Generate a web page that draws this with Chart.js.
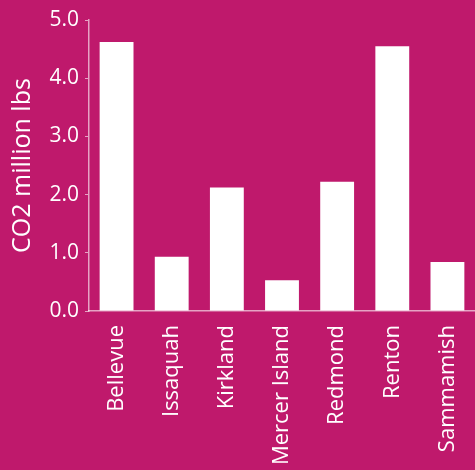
<!DOCTYPE html>
<html>
<head>
<meta charset="utf-8">
<script src="https://cdn.jsdelivr.net/npm/chart.js@4"></script>
<style>
  html, body { margin: 0; padding: 0; background: #BF196C; }
  #wrap { width: 475px; height: 470px; }
</style>
</head>
<body>
<div id="wrap"><canvas id="co2Chart" width="475" height="470"></canvas></div>
<script>
const cities = ["Bellevue", "Issaquah", "Kirkland", "Mercer Island", "Redmond", "Renton", "Sammamish"];
const co2Values = [4.62, 0.93, 2.12, 0.53, 2.22, 4.55, 0.84];
const yTicks = [0, 1, 2, 3, 4, 5];

const axisColor = "rgba(255, 255, 255, 0.6)";

new Chart(document.getElementById("co2Chart").getContext("2d"), {
  type: "bar",
  data: {
    labels: cities,
    datasets: [
      {
        label: "CO2 million lbs",
        data: co2Values,
        backgroundColor: "#ffffff",
        borderWidth: 0,
        categoryPercentage: 1,
        barPercentage: 0.614,
      },
    ],
  },
  options: {
    responsive: false,
    animation: false,
    layout: { padding: { top: 20, right: -2 } },
    plugins: {
      legend: { display: false },
      tooltip: { enabled: false },
    },
    scales: {
      x: {
        grid: { display: false },
        border: { color: axisColor, width: 1.5 },
        ticks: {
          color: "#ffffff",
          font: { family: "Open Sans", size: 22 },
          minRotation: 90,
          maxRotation: 90,
          autoSkip: false,
          padding: 6,
        },
        afterFit: function (scale) {
          scale.height = 159;
          scale.paddingLeft = 0;
          scale.paddingRight = 0;
        },
      },
      y: {
        min: 0,
        max: 5,
        afterBuildTicks: function (scale) {
          scale.ticks = yTicks.map(function (v) { return { value: v }; });
        },
        grid: {
          drawOnChartArea: false,
          color: axisColor,
          tickLength: 4,
        },
        border: { color: axisColor, width: 1.5 },
        ticks: {
          color: "#ffffff",
          font: { family: "Open Sans", size: 21 },
          padding: 6,
          callback: function (v) { return Number(v).toFixed(1); },
        },
        title: {
          display: true,
          text: "CO2 million lbs",
          color: "#ffffff",
          font: { family: "Open Sans", size: 25 },
          padding: { top: 8, bottom: 0 },
        },
        afterFit: function (scale) {
          scale.width = 89;
        },
      },
    },
  },
});
</script>
</body>
</html>
